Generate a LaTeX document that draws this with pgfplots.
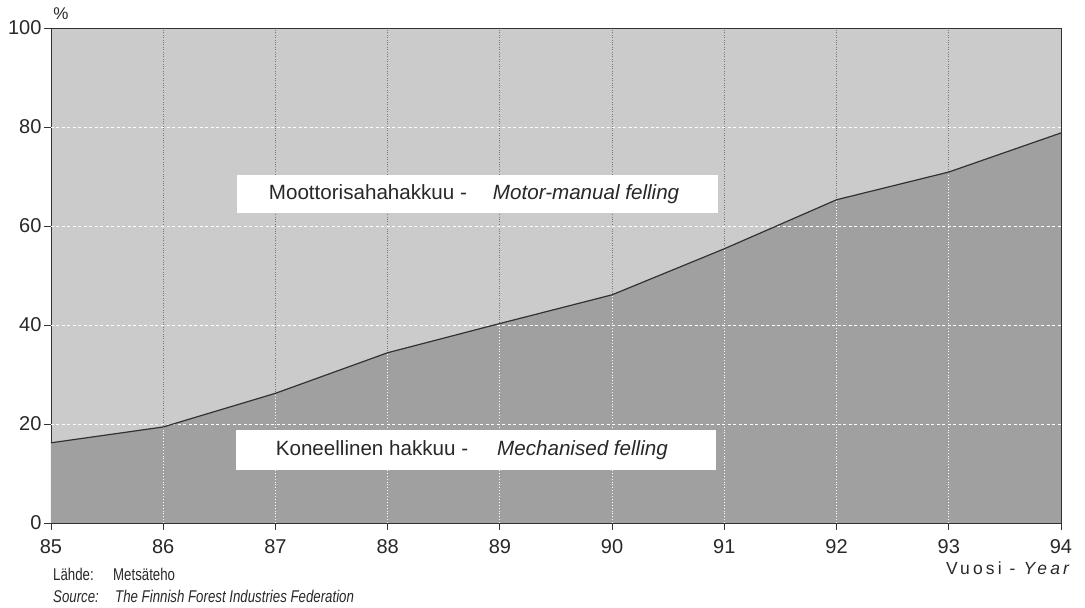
\documentclass[border=0pt]{standalone}
\usepackage{fontspec}
\setmainfont{Liberation Sans}
\newfontfamily\condfont[FakeStretch=0.78]{Liberation Sans}
\newfontfamily\spacedfont[LetterSpace=18]{Liberation Sans}
\usepackage{pgfplots}
\pgfplotsset{compat=1.18}
\definecolor{upcol}{RGB}{203,203,203}
\definecolor{lowcol}{RGB}{160,160,160}
\definecolor{linecol}{RGB}{50,50,50}
\definecolor{textcol}{RGB}{40,40,40}
\definecolor{vgrid}{RGB}{120,120,120}
\begin{document}
\begin{tikzpicture}
\begin{axis}[
  scale only axis,
  width=1010bp, height=495bp,
  xmin=85, xmax=94, ymin=0, ymax=100,
  xtick={85,...,94}, ytick={0,20,...,100},
  xtick pos=left, ytick pos=left,
  tick align=outside,
  major tick length=7bp,
  tick style={linecol, line width=0.8bp},
  axis line style={linecol, line width=0.9bp},
  axis background/.style={fill=upcol},
  xmajorgrids,
  major x grid style={vgrid, dotted, line width=0.9bp},
  /pgf/number format/assume math mode=true,
  ticklabel style={font=\fontsize{20bp}{23bp}\selectfont, text=textcol},
  xticklabel style={yshift=-6bp},
  yticklabel style={xshift=1bp},
]
\addplot[fill=lowcol, draw=none] coordinates {
 (85,16.2) (86,19.4) (87,26.2) (88,34.4) (89,40.3) (90,46.1) (91,55.4) (92,65.3) (93,70.9) (94,78.8)
} \closedcycle;
% white dotted vertical grid over the dark area
\draw[white, dotted, line width=0.9bp] (axis cs:86,0) -- (axis cs:86,19.4);
\draw[white, dotted, line width=0.9bp] (axis cs:87,0) -- (axis cs:87,26.2);
\draw[white, dotted, line width=0.9bp] (axis cs:88,0) -- (axis cs:88,34.4);
\draw[white, dotted, line width=0.9bp] (axis cs:89,0) -- (axis cs:89,40.3);
\draw[white, dotted, line width=0.9bp] (axis cs:90,0) -- (axis cs:90,46.1);
\draw[white, dotted, line width=0.9bp] (axis cs:91,0) -- (axis cs:91,55.4);
\draw[white, dotted, line width=0.9bp] (axis cs:92,0) -- (axis cs:92,65.3);
\draw[white, dotted, line width=0.9bp] (axis cs:93,0) -- (axis cs:93,70.9);
% white dashed horizontal grid
\draw[white, dash pattern=on 3bp off 2.5bp, line width=0.9bp] (axis cs:85,20) -- (axis cs:94,20);
\draw[white, dash pattern=on 3bp off 2.5bp, line width=0.9bp] (axis cs:85,40) -- (axis cs:94,40);
\draw[white, dash pattern=on 3bp off 2.5bp, line width=0.9bp] (axis cs:85,60) -- (axis cs:94,60);
\draw[white, dash pattern=on 3bp off 2.5bp, line width=0.9bp] (axis cs:85,80) -- (axis cs:94,80);
\addplot[linecol, line width=1.2bp] coordinates {
 (85,16.2) (86,19.4) (87,26.2) (88,34.4) (89,40.3) (90,46.1) (91,55.4) (92,65.3) (93,70.9) (94,78.8)
};
\node[fill=white, minimum width=481bp, minimum height=38bp, inner sep=0] at (axis cs:88.797,66.46) {};
\node[inner sep=0, text=textcol, font=\fontsize{20.6bp}{24bp}\selectfont] at (axis cs:88.77,66.46) {Moottorisahahakkuu -\hspace{26bp}\textit{Motor-manual felling}};
\node[fill=white, minimum width=480bp, minimum height=40bp, inner sep=0] at (axis cs:88.79,14.75) {};
\node[inner sep=0, text=textcol, font=\fontsize{20.6bp}{24bp}\selectfont] at (axis cs:88.75,14.75) {Koneellinen hakkuu -\hspace{29bp}\textit{Mechanised felling}};
\coordinate (SW) at (rel axis cs:0,0);
\coordinate (NW) at (rel axis cs:0,1);
\coordinate (SE) at (rel axis cs:1,0);
\end{axis}
\node[inner sep=0, text=textcol, font=\fontsize{17bp}{20bp}\selectfont] at ([xshift=10bp, yshift=14bp]NW) {\%};
\node[inner sep=0, text=textcol, anchor=base east, font=\spacedfont\fontsize{17.5bp}{20bp}\selectfont] at ([xshift=12bp, yshift=-51bp]SE) {Vuosi - \textit{Year}};
\node[inner sep=0, text=textcol, anchor=base west, font=\condfont\fontsize{17bp}{20bp}\selectfont] at ([xshift=2bp, yshift=-57bp]SW) {Lähde:};
\node[inner sep=0, text=textcol, anchor=base west, font=\condfont\fontsize{17bp}{20bp}\selectfont] at ([xshift=62bp, yshift=-57bp]SW) {Metsäteho};
\node[inner sep=0, text=textcol, anchor=base west, font=\condfont\fontsize{17bp}{20bp}\selectfont] at ([xshift=2bp, yshift=-79bp]SW) {\textit{Source:}};
\node[inner sep=0, text=textcol, anchor=base west, font=\condfont\fontsize{17bp}{20bp}\selectfont] at ([xshift=64bp, yshift=-79bp]SW) {\textit{The Finnish Forest Industries Federation}};
\pgfresetboundingbox
\useasboundingbox ([xshift=-51bp, yshift=-85bp]SW) rectangle ([xshift=1034bp, yshift=523bp]SW);
\end{tikzpicture}
\end{document}
